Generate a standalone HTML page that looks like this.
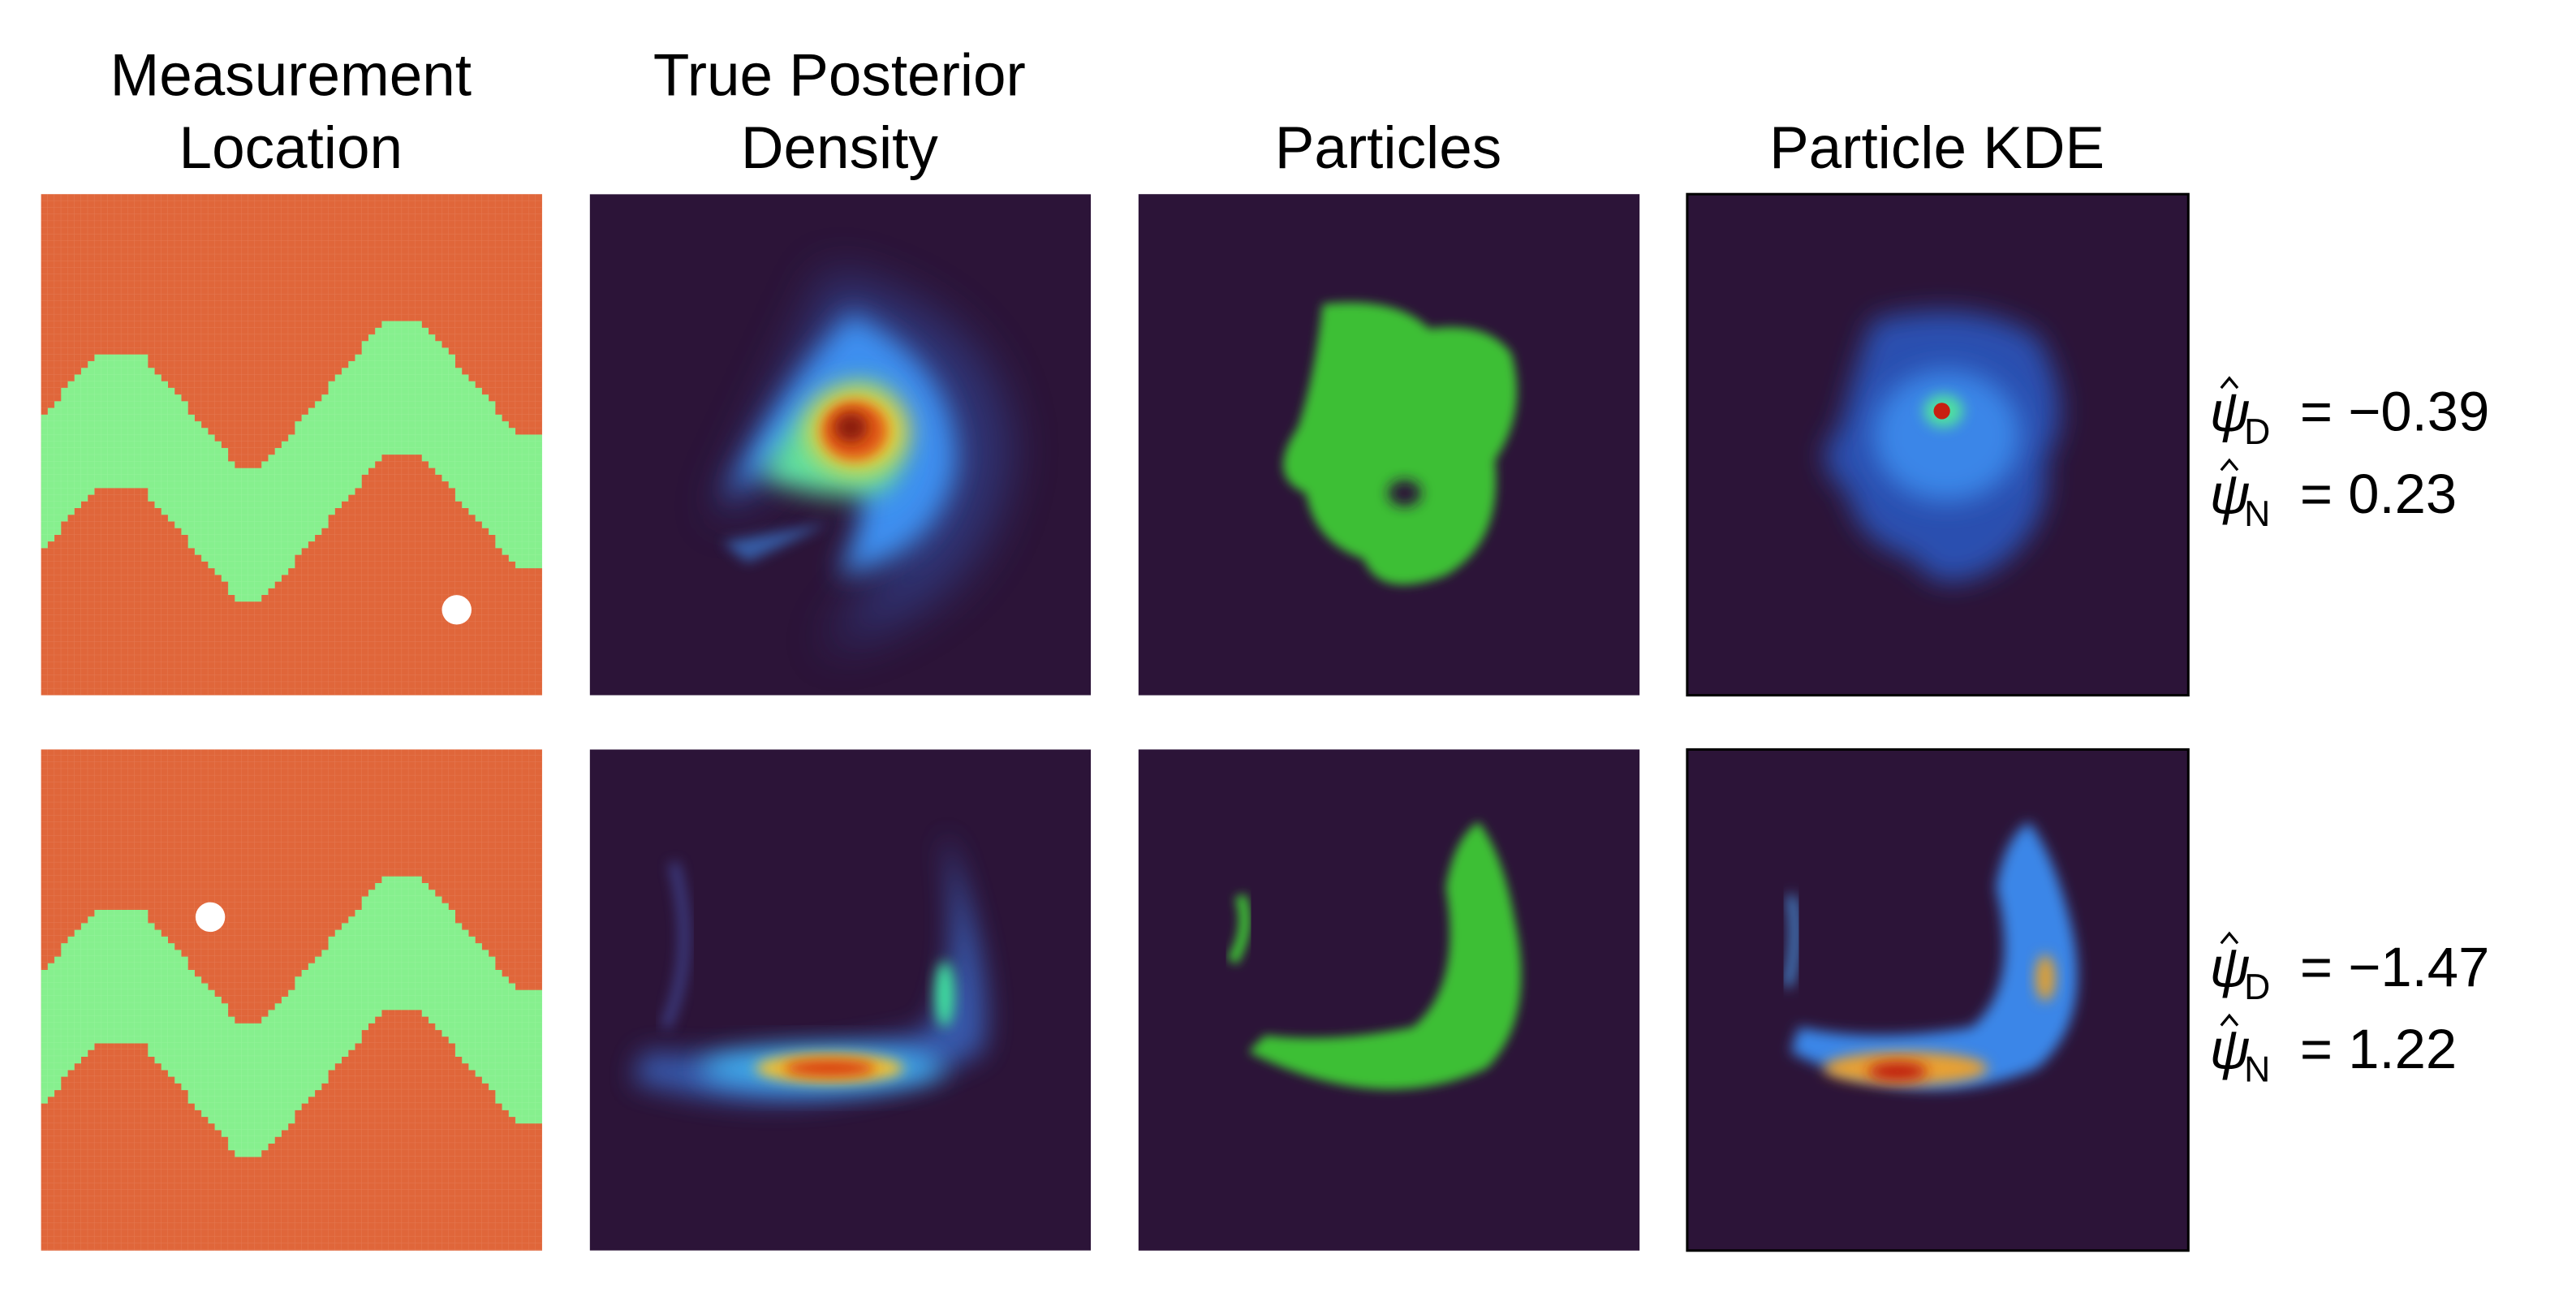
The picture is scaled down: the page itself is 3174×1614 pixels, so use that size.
<!DOCTYPE html>
<html><head><meta charset="utf-8"><style>
html,body{margin:0;padding:0;background:#fff;}
svg{display:block;}
text{font-family:"Liberation Sans","DejaVu Sans",sans-serif;fill:#000;}
</style></head><body>
<svg width="3174" height="1614" viewBox="0 0 1568 797" xmlns="http://www.w3.org/2000/svg">
<defs>
<filter id="b3" x="-50%" y="-50%" width="200%" height="200%"><feGaussianBlur stdDeviation="3"/></filter>
<filter id="b4" x="-50%" y="-50%" width="200%" height="200%"><feGaussianBlur stdDeviation="4"/></filter>
<filter id="b8" x="-50%" y="-50%" width="200%" height="200%"><feGaussianBlur stdDeviation="8"/></filter>
<filter id="b14" x="-50%" y="-50%" width="200%" height="200%"><feGaussianBlur stdDeviation="14"/></filter>
<clipPath id="c2a"><rect x="359" y="118" width="305" height="305"/></clipPath>
<clipPath id="c2b"><rect x="359" y="456" width="305" height="305"/></clipPath>
<pattern id="grid" width="4.0667" height="4.0667" patternUnits="userSpaceOnUse" x="25" y="118">
<path d="M4.0667 0 V4.0667 M0 4.0667 H4.0667" stroke="#fff" stroke-opacity="0.12" stroke-width="0.5" fill="none"/>
</pattern>
</defs>

<g font-size="36" text-anchor="middle">
<text x="177" y="58">Measurement</text>
<text x="177" y="102">Location</text>
<text x="511" y="58">True Posterior</text>
<text x="511" y="102">Density</text>
<text x="845" y="102">Particles</text>
<text x="1179" y="102">Particle KDE</text>
</g>

<g>
<rect x="25" y="118" width="305" height="305" fill="#e0663a"/>
<path id="band1" fill="#86f08e" d=""/>
<rect x="25" y="118" width="305" height="305" fill="url(#grid)"/>
<circle cx="278" cy="371" r="9" fill="#fff"/>
</g>
<g>
<rect x="25" y="456" width="305" height="305" fill="#e0663a"/>
<path id="band2" fill="#86f08e" d=""/>
<rect x="25" y="456" width="305" height="305" fill="url(#grid)"/>
<circle cx="128" cy="558" r="9" fill="#fff"/>
</g>

<g clip-path="url(#c2a)">
<rect x="359" y="118" width="305" height="305" fill="#2c1438"/>
<path d="M505 165 Q610 190 615 275 Q605 370 500 395 Q570 320 545 275 Q520 240 470 290 Q455 310 435 315 Q470 240 505 165Z" fill="#3050a8" opacity="0.55" filter="url(#b14)"/>
<path d="M518 190 Q585 225 582 285 Q570 340 510 350 Q535 300 515 280 Q480 270 440 305 Q475 235 518 190Z" fill="#3e8ff0" filter="url(#b8)"/>
<path d="M440 330 L505 318 L455 342 Z" fill="#3e8ff0" opacity="0.6" filter="url(#b4)"/>
<path d="M465 285 Q500 225 535 235 Q562 265 540 298 Q505 308 465 290Z" fill="#5ee0a0" filter="url(#b8)"/>
<ellipse cx="522" cy="262" rx="30" ry="26" fill="#f2d030" filter="url(#b8)"/>
<ellipse cx="520" cy="262" rx="20" ry="18" fill="#e05818" filter="url(#b4)"/>
<ellipse cx="518" cy="260" rx="10" ry="9" fill="#8c1a08" filter="url(#b4)"/>
</g>
<g clip-path="url(#c2b)">
<rect x="359" y="456" width="305" height="305" fill="#2c1438"/>
<path d="M385 658 Q500 690 598 640 Q608 600 575 505 Q588 600 562 628 Q480 648 392 640Z" fill="#3a6ed0" opacity="0.75" filter="url(#b8)"/>
<path d="M410 525 Q425 580 405 625" stroke="#4a5fc0" stroke-width="6" fill="none" opacity="0.6" filter="url(#b4)"/>
<ellipse cx="500" cy="650" rx="75" ry="13" fill="#3fb0f0" filter="url(#b8)"/>
<ellipse cx="505" cy="650" rx="45" ry="9" fill="#f0c030" filter="url(#b4)"/>
<ellipse cx="505" cy="650" rx="28" ry="5" fill="#d83810" filter="url(#b4)"/>
<ellipse cx="575" cy="605" rx="6" ry="20" fill="#40e0a0" filter="url(#b4)"/>
</g>

<g>
<rect x="693" y="118" width="305" height="305" fill="#2c1438"/>
<path d="M805 185 Q850 180 870 200 Q905 195 920 215 Q930 250 910 280 Q915 330 880 350 Q840 365 830 340 Q800 330 795 300 Q770 290 790 260 Q800 230 805 185Z" fill="#3ebf34" filter="url(#b3)"/>
<ellipse cx="855" cy="300" rx="10" ry="8" fill="#2c1438" filter="url(#b4)"/>
</g>
<g>
<rect x="693" y="456" width="305" height="305" fill="#2c1438"/>
<path d="M760 640 Q840 680 905 650 Q935 620 922 560 Q915 520 900 500 Q885 510 880 540 Q890 600 860 625 Q810 635 770 630Z" fill="#3ebf34" filter="url(#b3)"/>
<path d="M755 545 Q762 565 750 585" stroke="#3ebf34" stroke-width="7" fill="none" filter="url(#b3)"/>
</g>

<g>
<rect x="1027" y="118" width="305" height="305" fill="#2c1438" stroke="#000" stroke-width="1.5"/>
<path d="M1140 195 Q1200 180 1240 205 Q1265 250 1245 280 Q1250 320 1215 345 Q1180 365 1165 340 Q1130 330 1125 300 Q1100 280 1120 260 Q1130 220 1140 195Z" fill="#2a4fb0" filter="url(#b8)"/>
<ellipse cx="1185" cy="265" rx="45" ry="40" fill="#3a86e8" filter="url(#b8)"/>
<ellipse cx="1183" cy="250" rx="12" ry="10" fill="#50e0a0" filter="url(#b4)"/>
<circle cx="1182" cy="250" r="5" fill="#c82010"/>
</g>
<g>
<rect x="1027" y="456" width="305" height="305" fill="#2c1438" stroke="#000" stroke-width="1.5"/>
<path d="M1090 640 Q1170 680 1240 650 Q1275 620 1260 560 Q1250 520 1235 500 Q1220 510 1215 540 Q1230 600 1200 625 Q1140 635 1095 625Z" fill="#3a86e8" filter="url(#b4)"/>
<ellipse cx="1160" cy="650" rx="50" ry="10" fill="#e8a030" filter="url(#b4)"/>
<ellipse cx="1155" cy="652" rx="18" ry="6" fill="#c02010" filter="url(#b4)"/>
<ellipse cx="1245" cy="595" rx="6" ry="14" fill="#e0a030" filter="url(#b4)"/>
<path d="M1090 545 Q1096 570 1088 600" stroke="#4aa0f0" stroke-width="5" fill="none" filter="url(#b4)"/>
</g>

<g font-size="34">
<g><text x="1345" y="262" font-style="italic">ψ</text><path d="M1352 236 L1357 230 L1362 236" stroke="#000" stroke-width="1.6" fill="none"/><text x="1366" y="270" font-size="22">D</text><text x="1400" y="262">= −0.39</text></g>
<g><text x="1345" y="312" font-style="italic">ψ</text><path d="M1352 286 L1357 280 L1362 286" stroke="#000" stroke-width="1.6" fill="none"/><text x="1366" y="320" font-size="22">N</text><text x="1400" y="312">= 0.23</text></g>
<g><text x="1345" y="600" font-style="italic">ψ</text><path d="M1352 574 L1357 568 L1362 574" stroke="#000" stroke-width="1.6" fill="none"/><text x="1366" y="608" font-size="22">D</text><text x="1400" y="600">= −1.47</text></g>
<g><text x="1345" y="650" font-style="italic">ψ</text><path d="M1352 624 L1357 618 L1362 624" stroke="#000" stroke-width="1.6" fill="none"/><text x="1366" y="658" font-size="22">N</text><text x="1400" y="650">= 1.22</text></g>
</g>
</svg>
<script>
var knotX=[25,60,85,145,160,235,255,315,330];
var knotY=[254,214,214,284,284,194,194,264,264];
function interp(x){
  for(var i=0;i<knotX.length-1;i++){
    if(x<=knotX[i+1]){var t=(x-knotX[i])/(knotX[i+1]-knotX[i]);return knotY[i]+t*(knotY[i+1]-knotY[i]);}
  }
  return knotY[knotY.length-1];
}
function band(id, dy){
  var c=305/75, top=[], bot=[];
  for(var i=0;i<75;i++){
    var x0=25+i*c, x1=x0+c;
    var y=118+Math.round((interp(x0+c/2)-118)/c)*c+dy;
    top.push([x0,y],[x1,y]);
    bot.push([x0,y+81.3],[x1,y+81.3]);
  }
  bot.reverse();
  var pts=top.concat(bot).map(function(p){return p[0].toFixed(2)+' '+p[1].toFixed(2);});
  document.getElementById(id).setAttribute('d','M'+pts.join(' L')+'Z');
}
band('band1',0); band('band2',338);
</script>
</body></html>
